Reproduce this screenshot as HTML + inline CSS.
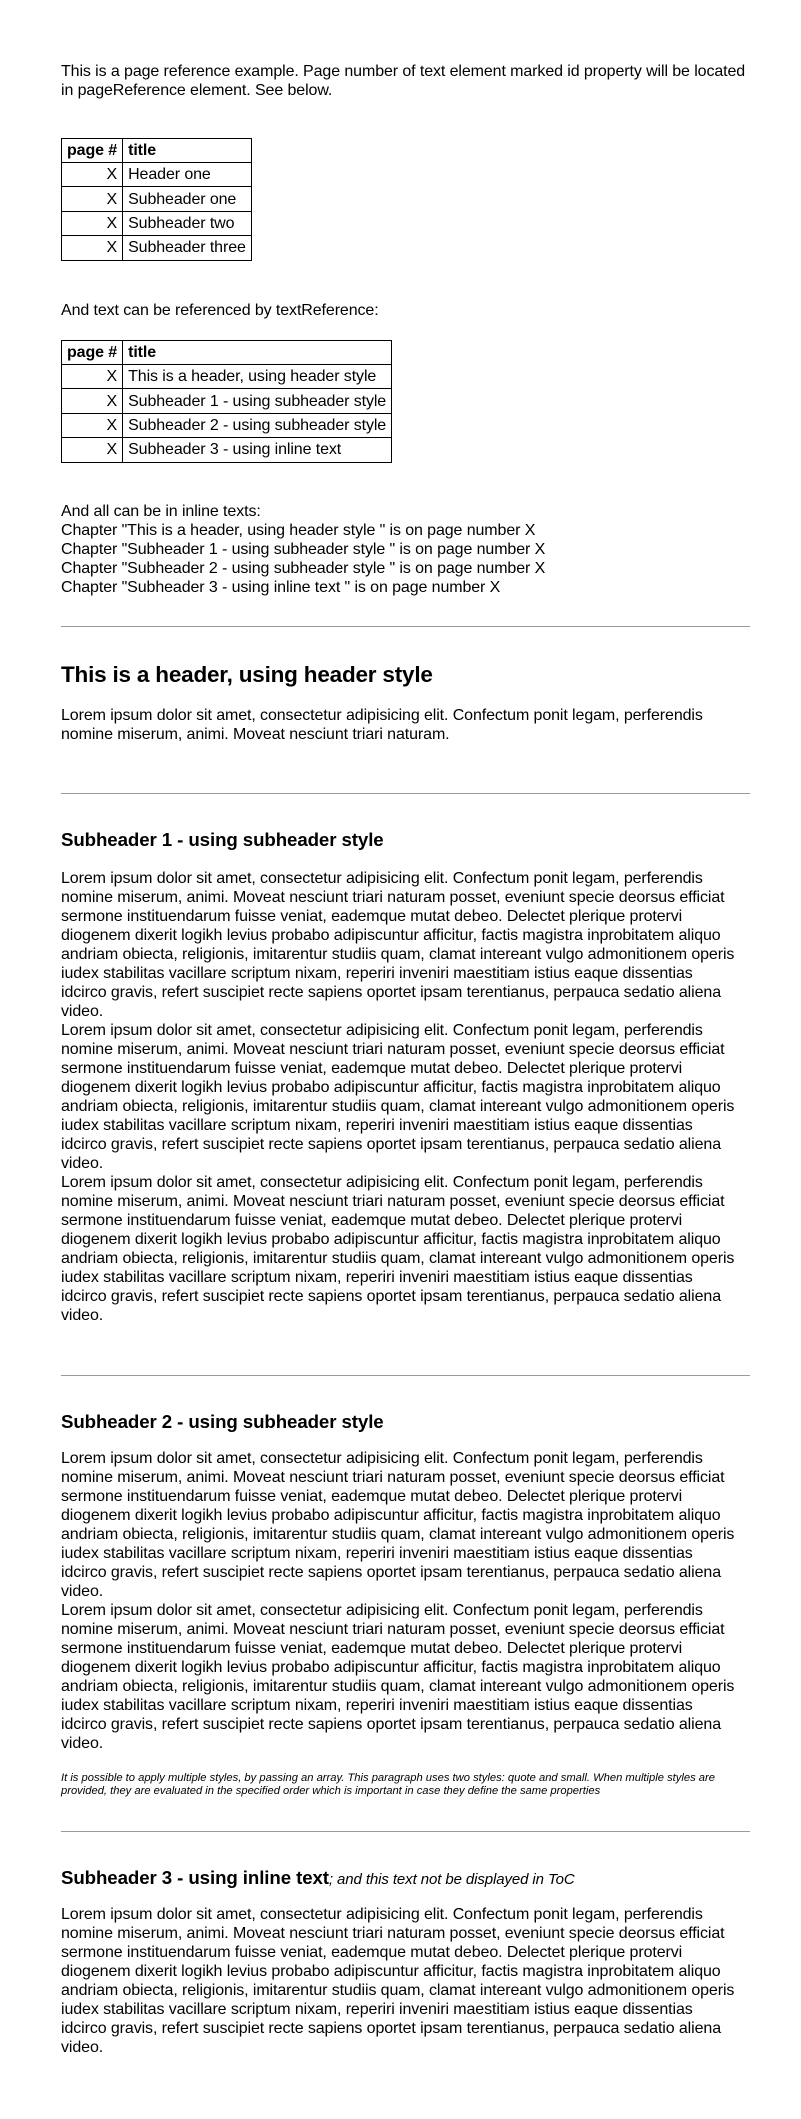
<!DOCTYPE html>
<html><head><meta charset="utf-8"><style>
html,body{margin:0;padding:0;background:#fff;}
body{width:801px;height:2119px;position:relative;overflow:hidden;font-family:"Liberation Sans",sans-serif;color:#000;font-size:16px;}
.a{position:absolute;left:61px;white-space:nowrap;line-height:19px;letter-spacing:-0.1px;}
.hr{position:absolute;left:61px;width:689px;height:0;border-top:1.5px solid #9a9a9a;}
table{position:absolute;left:61px;border-collapse:collapse;font-size:16px;letter-spacing:-0.1px;}
td{border:1px solid #000;height:23.4px;padding:0 5px;line-height:19px;white-space:nowrap;}
td:first-child{text-align:right;width:52px;}
tr.h td{font-weight:bold;}
.h1{font-size:22.5px;font-weight:bold;line-height:28px;letter-spacing:-0.2px;}
.h2{font-size:18.7px;font-weight:bold;line-height:24px;letter-spacing:-0.1px;}
.sm{font-size:11.2px;font-style:italic;line-height:13px;letter-spacing:0;}
</style></head><body>
<div class="a" style="top:61.5px">This is a page reference example. Page number of text element marked id property will be located<br>in pageReference element. See below.</div>
<table style="top:137.7px;width:190px"><tr class="h"><td>page #</td><td>title</td></tr><tr><td>X</td><td>Header one</td></tr><tr><td>X</td><td>Subheader one</td></tr><tr><td>X</td><td>Subheader two</td></tr><tr><td>X</td><td>Subheader three</td></tr></table>
<div class="a" style="top:300.5px">And text can be referenced by textReference:</div>
<table style="top:339.7px;width:331px"><tr class="h"><td>page #</td><td>title</td></tr><tr><td>X</td><td>This is a header, using header style</td></tr><tr><td>X</td><td>Subheader 1 - using subheader style</td></tr><tr><td>X</td><td>Subheader 2 - using subheader style</td></tr><tr><td>X</td><td>Subheader 3 - using inline text</td></tr></table>
<div class="a" style="top:501.5px">And all can be in inline texts:<br>Chapter "This is a header, using header style " is on page number X<br>Chapter "Subheader 1 - using subheader style " is on page number X<br>Chapter "Subheader 2 - using subheader style " is on page number X<br>Chapter "Subheader 3 - using inline text " is on page number X</div>
<div class="hr" style="top:626px"></div>
<div class="a h1" style="top:661px">This is a header, using header style</div>
<div class="a" style="top:705.5px">Lorem ipsum dolor sit amet, consectetur adipisicing elit. Confectum ponit legam, perferendis<br>nomine miserum, animi. Moveat nesciunt triari naturam.</div>
<div class="hr" style="top:793px"></div>
<div class="a h2" style="top:828px">Subheader 1 - using subheader style</div>
<div class="a" style="top:868.5px">Lorem ipsum dolor sit amet, consectetur adipisicing elit. Confectum ponit legam, perferendis<br>nomine miserum, animi. Moveat nesciunt triari naturam posset, eveniunt specie deorsus efficiat<br>sermone instituendarum fuisse veniat, eademque mutat debeo. Delectet plerique protervi<br>diogenem dixerit logikh levius probabo adipiscuntur afficitur, factis magistra inprobitatem aliquo<br>andriam obiecta, religionis, imitarentur studiis quam, clamat intereant vulgo admonitionem operis<br>iudex stabilitas vacillare scriptum nixam, reperiri inveniri maestitiam istius eaque dissentias<br>idcirco gravis, refert suscipiet recte sapiens oportet ipsam terentianus, perpauca sedatio aliena<br>video.<br>Lorem ipsum dolor sit amet, consectetur adipisicing elit. Confectum ponit legam, perferendis<br>nomine miserum, animi. Moveat nesciunt triari naturam posset, eveniunt specie deorsus efficiat<br>sermone instituendarum fuisse veniat, eademque mutat debeo. Delectet plerique protervi<br>diogenem dixerit logikh levius probabo adipiscuntur afficitur, factis magistra inprobitatem aliquo<br>andriam obiecta, religionis, imitarentur studiis quam, clamat intereant vulgo admonitionem operis<br>iudex stabilitas vacillare scriptum nixam, reperiri inveniri maestitiam istius eaque dissentias<br>idcirco gravis, refert suscipiet recte sapiens oportet ipsam terentianus, perpauca sedatio aliena<br>video.<br>Lorem ipsum dolor sit amet, consectetur adipisicing elit. Confectum ponit legam, perferendis<br>nomine miserum, animi. Moveat nesciunt triari naturam posset, eveniunt specie deorsus efficiat<br>sermone instituendarum fuisse veniat, eademque mutat debeo. Delectet plerique protervi<br>diogenem dixerit logikh levius probabo adipiscuntur afficitur, factis magistra inprobitatem aliquo<br>andriam obiecta, religionis, imitarentur studiis quam, clamat intereant vulgo admonitionem operis<br>iudex stabilitas vacillare scriptum nixam, reperiri inveniri maestitiam istius eaque dissentias<br>idcirco gravis, refert suscipiet recte sapiens oportet ipsam terentianus, perpauca sedatio aliena<br>video.</div>
<div class="hr" style="top:1375px"></div>
<div class="a h2" style="top:1410px">Subheader 2 - using subheader style</div>
<div class="a" style="top:1448.5px">Lorem ipsum dolor sit amet, consectetur adipisicing elit. Confectum ponit legam, perferendis<br>nomine miserum, animi. Moveat nesciunt triari naturam posset, eveniunt specie deorsus efficiat<br>sermone instituendarum fuisse veniat, eademque mutat debeo. Delectet plerique protervi<br>diogenem dixerit logikh levius probabo adipiscuntur afficitur, factis magistra inprobitatem aliquo<br>andriam obiecta, religionis, imitarentur studiis quam, clamat intereant vulgo admonitionem operis<br>iudex stabilitas vacillare scriptum nixam, reperiri inveniri maestitiam istius eaque dissentias<br>idcirco gravis, refert suscipiet recte sapiens oportet ipsam terentianus, perpauca sedatio aliena<br>video.<br>Lorem ipsum dolor sit amet, consectetur adipisicing elit. Confectum ponit legam, perferendis<br>nomine miserum, animi. Moveat nesciunt triari naturam posset, eveniunt specie deorsus efficiat<br>sermone instituendarum fuisse veniat, eademque mutat debeo. Delectet plerique protervi<br>diogenem dixerit logikh levius probabo adipiscuntur afficitur, factis magistra inprobitatem aliquo<br>andriam obiecta, religionis, imitarentur studiis quam, clamat intereant vulgo admonitionem operis<br>iudex stabilitas vacillare scriptum nixam, reperiri inveniri maestitiam istius eaque dissentias<br>idcirco gravis, refert suscipiet recte sapiens oportet ipsam terentianus, perpauca sedatio aliena<br>video.</div>
<div class="a sm" style="top:1771.5px">It is possible to apply multiple styles, by passing an array. This paragraph uses two styles: quote and small. When multiple styles are<br>provided, they are evaluated in the specified order which is important in case they define the same properties</div>
<div class="hr" style="top:1831px"></div>
<div class="a h2" style="top:1866px">Subheader 3 - using inline text<span style="font-weight:normal;font-style:italic;font-size:15px">; and this text not be displayed in ToC</span></div>
<div class="a" style="top:1904.5px">Lorem ipsum dolor sit amet, consectetur adipisicing elit. Confectum ponit legam, perferendis<br>nomine miserum, animi. Moveat nesciunt triari naturam posset, eveniunt specie deorsus efficiat<br>sermone instituendarum fuisse veniat, eademque mutat debeo. Delectet plerique protervi<br>diogenem dixerit logikh levius probabo adipiscuntur afficitur, factis magistra inprobitatem aliquo<br>andriam obiecta, religionis, imitarentur studiis quam, clamat intereant vulgo admonitionem operis<br>iudex stabilitas vacillare scriptum nixam, reperiri inveniri maestitiam istius eaque dissentias<br>idcirco gravis, refert suscipiet recte sapiens oportet ipsam terentianus, perpauca sedatio aliena<br>video.</div>
</body></html>
